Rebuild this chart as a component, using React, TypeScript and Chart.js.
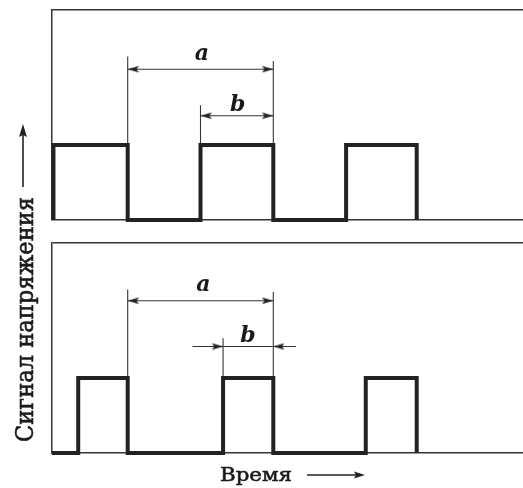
import React, { useEffect, useRef } from 'react';
import { Chart, registerables } from 'chart.js';

Chart.register(...registerables);

// ---- data (time in half-period units, signal in pulse-height units) ----
const X_MIN = -0.04;
const X_MAX = 6.43;
const Y_MAX = 2.8;

const topTimes = [-0.02, -0.02, 1, 2, 3, 4, 4.97];
const topLevels = [0, 1, 0, 1, 0, 1, 0];
const bottomTimes = [-0.04, 0.32, 1, 2.31, 3, 4.27, 4.97];
const bottomLevels = [0, 1, 0, 1, 0, 1, 0];

// dimension intervals
const topA = [1, 3];
const topB = [2, 3];
const bottomA = [1, 3];
const bottomB = [2.31, 3];
const bottomBTails = [1.89, 3.31];
// levels of the dimension lines: [a, b]
const topArrowLevels = [2.01, 1.39];
const bottomArrowLevels = [2.03, 1.42];
// tops of the extension lines: [a-from, a-to, b-from]
const topExtTops = [2.18, 2.12, 1.53];
const bottomExtTops = [2.18, 2.15, 1.53];
// label anchors [time, level]
const topLabelPos = [[2.02, 2.14], [2.51, 1.46]];
const bottomLabelPos = [[2.04, 2.16], [2.65, 1.48]];
const intervalNames = ['a', 'b'];
const xTitle = 'Время';
const yTitle = 'Сигнал напряжения';

const INK = '#222222';
const THIN = '#353535';
const TEXT = '#1a1a1a';

function makeArrowHead(len = 11, half = 3.2) {
  const c = document.createElement('canvas');
  c.width = len * 2;
  c.height = 8;
  const g = c.getContext('2d')!;
  const cy = c.height / 2;
  g.fillStyle = INK;
  g.beginPath();
  g.moveTo(len, cy);
  g.lineTo(0, cy - half);
  g.lineTo(2, cy);
  g.lineTo(0, cy + half);
  g.closePath();
  g.fill();
  return c;
}

function wave(times: number[], levels: number[], yAxisID: string) {
  return {
    type: 'line' as const,
    data: times.map((t, i) => ({ x: t, y: levels[i] })),
    xAxisID: 'x',
    yAxisID,
    stepped: 'before' as const,
    borderColor: INK,
    borderWidth: 4,
    borderJoinStyle: 'miter' as const,
    borderCapStyle: 'butt' as const,
    pointRadius: 0,
    fill: false,
    clip: false as const,
  };
}

function ext(t: number, from: number, to: number, yAxisID: string) {
  return {
    type: 'line' as const,
    data: [{ x: t, y: from }, { x: t, y: to }],
    xAxisID: 'x',
    yAxisID,
    borderColor: THIN,
    borderWidth: 1.1,
    pointRadius: 0,
    fill: false,
    clip: false as const,
  };
}

function dim(times: number[], level: number, radii: number[], rot: number[], yAxisID: string, img: HTMLCanvasElement) {
  return {
    type: 'line' as const,
    data: times.map((t) => ({ x: t, y: level })),
    xAxisID: 'x',
    yAxisID,
    borderColor: THIN,
    borderWidth: 1.1,
    pointStyle: img,
    pointRadius: radii,
    pointHoverRadius: radii,
    pointRotation: rot,
    fill: false,
    clip: false as const,
  };
}

function fitText(ctx: CanvasRenderingContext2D, text: string, x: number, y: number, width: number) {
  const w = ctx.measureText(text).width;
  ctx.save();
  ctx.translate(x, y);
  ctx.scale(width / w, 1);
  ctx.lineWidth = 0.6;
  ctx.strokeStyle = TEXT;
  ctx.fillText(text, 0, 0);
  ctx.strokeText(text, 0, 0);
  ctx.restore();
}

function arrowLine(ctx: CanvasRenderingContext2D, x1: number, y1: number, x2: number, y2: number, len = 11, half = 3.6) {
  const ang = Math.atan2(y2 - y1, x2 - x1);
  ctx.save();
  ctx.strokeStyle = INK;
  ctx.fillStyle = INK;
  ctx.lineWidth = 1.6;
  ctx.beginPath();
  ctx.moveTo(x1, y1);
  ctx.lineTo(x2 - Math.cos(ang) * (len - 2), y2 - Math.sin(ang) * (len - 2));
  ctx.stroke();
  ctx.translate(x2, y2);
  ctx.rotate(ang);
  ctx.beginPath();
  ctx.moveTo(0, 0);
  ctx.lineTo(-len, -half);
  ctx.lineTo(-len + 2, 0);
  ctx.lineTo(-len, half);
  ctx.closePath();
  ctx.fill();
  ctx.restore();
}

const textPlugin = {
  id: 'figureText',
  afterDatasetsDraw(chart: any) {
    const { ctx, scales, chartArea } = chart;
    const xs = scales.x;
    ctx.save();
    ctx.fillStyle = TEXT;
    ctx.font = 'italic bold 22px "DejaVu Serif"';
    ctx.textAlign = 'center';
    ctx.textBaseline = 'alphabetic';
    const put = (pos: number[][], ys: any) =>
      pos.forEach(([t, v], i) => ctx.fillText(intervalNames[i], xs.getPixelForValue(t), ys.getPixelForValue(v)));
    put(topLabelPos, scales.yTop);
    put(bottomLabelPos, scales.yBot);

    // x title
    ctx.textAlign = 'left';
    ctx.font = '19px "DejaVu Serif"';
    const xl = chartArea.left + 168;
    const xb = chartArea.bottom + 27.5;
    fitText(ctx, xTitle, xl, xb, 72);
    arrowLine(ctx, xl + 87, xb - 5.5, xl + 145, xb - 5.5);

    // y title (rotated)
    ctx.save();
    ctx.translate(chartArea.left - 19, 442);
    ctx.rotate(-Math.PI / 2);
    ctx.font = '25px "DejaVu Serif"';
    fitText(ctx, yTitle, 0, 0, 245);
    ctx.restore();
    arrowLine(ctx, chartArea.left - 29, 187, chartArea.left - 29, 124, 13, 4);
    ctx.restore();
  },
};

const hidden = { display: false };
const noGrid = { display: false, drawTicks: false };
const border = { display: true, color: THIN, width: 1.5 };

export default function App() {
  const ref = useRef<HTMLCanvasElement>(null);

  useEffect(() => {
    document.body.style.margin = '0';
    document.body.style.background = '#fff';
    const img = makeArrowHead();
    const datasets: any[] = [
      wave(topTimes, topLevels, 'yTop'),
      wave(bottomTimes, bottomLevels, 'yBot'),
      ext(topA[0], 1, topExtTops[0], 'yTop'),
      ext(topA[1], 1, topExtTops[1], 'yTop'),
      ext(topB[0], 1, topExtTops[2], 'yTop'),
      ext(bottomA[0], 1, bottomExtTops[0], 'yBot'),
      ext(bottomA[1], 1, bottomExtTops[1], 'yBot'),
      ext(bottomB[0], 1, bottomExtTops[2], 'yBot'),
      dim(topA, topArrowLevels[0], [3, 3], [180, 0], 'yTop', img),
      dim(topB, topArrowLevels[1], [3, 3], [180, 0], 'yTop', img),
      dim(bottomA, bottomArrowLevels[0], [3, 3], [180, 0], 'yBot', img),
      dim(
        [bottomBTails[0], bottomB[0], bottomB[1], bottomBTails[1]],
        bottomArrowLevels[1],
        [0, 3, 3, 0],
        [0, 0, 180, 0],
        'yBot',
        img
      ),
    ];

    const chart = new Chart(ref.current!, {
      type: 'line',
      data: { datasets },
      options: {
        animation: false,
        responsive: false,
        events: [],
        layout: { autoPadding: false, padding: { left: 52, top: 10, right: 0, bottom: 35 } },
        plugins: { legend: { display: false }, tooltip: { enabled: false } },
        scales: {
          x: {
            type: 'linear', position: 'bottom', min: X_MIN, max: X_MAX,
            ticks: hidden, grid: noGrid, border,
          },
          xTop: {
            type: 'linear', position: 'top', min: X_MIN, max: X_MAX,
            ticks: hidden, grid: noGrid, border,
          },
          yTop: {
            type: 'linear', position: 'left', stack: 'panels', stackWeight: 210, weight: 3,
            min: 0, max: Y_MAX,
            afterBuildTicks: (s: any) => { s.ticks = [{ value: 0 }, { value: Y_MAX }]; },
            ticks: hidden,
            grid: {
              display: true, drawTicks: false, lineWidth: 1.5,
              color: (c: any) => (c.tick && c.tick.value === 0 ? THIN : 'rgba(0,0,0,0)'),
            },
            border,
          },
          yGap: {
            type: 'linear', position: 'left', stack: 'panels', stackWeight: 23, weight: 2,
            min: 0, max: 1, ticks: hidden, grid: noGrid, border: { display: false },
          },
          yBot: {
            type: 'linear', position: 'left', stack: 'panels', stackWeight: 210, weight: 1,
            min: 0, max: Y_MAX,
            afterBuildTicks: (s: any) => { s.ticks = [{ value: 0 }, { value: Y_MAX }]; },
            ticks: hidden,
            grid: {
              display: true, drawTicks: false, lineWidth: 1.5,
              color: (c: any) => (c.tick && c.tick.value === Y_MAX ? THIN : 'rgba(0,0,0,0)'),
            },
            border,
          },
        } as any,
      },
      plugins: [textPlugin],
    });
    return () => chart.destroy();
  }, []);

  return (
    <canvas
      ref={ref}
      width={523}
      height={488}
      style={{ display: 'block', width: 523, height: 488 }}
    />
  );
}
